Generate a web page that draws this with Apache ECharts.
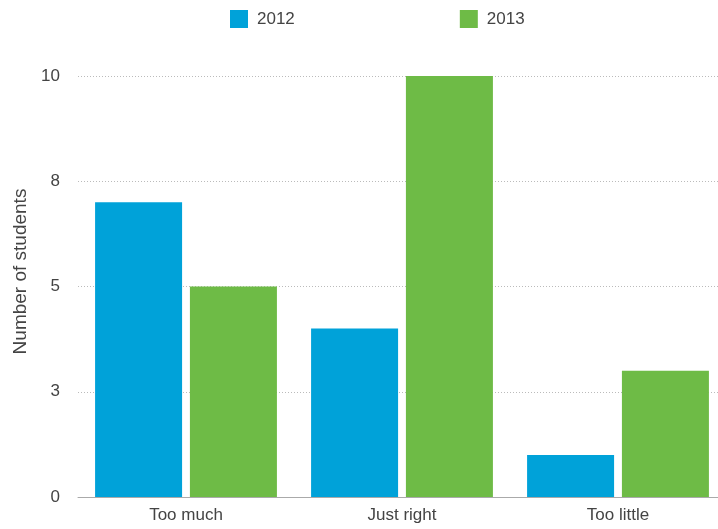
<!DOCTYPE html>
<html>
<head>
<meta charset="utf-8">
<script src="https://cdn.jsdelivr.net/npm/echarts@6/dist/echarts.min.js"></script>
<style>
html,body{margin:0;padding:0;background:#fff;overflow:hidden;}
/* plot runs a few px past the right edge, like the original */
#main{width:726px;height:529px;}
</style>
</head>
<body>
<div id="main"></div>
<script>
var categories = ['Too much', 'Just right', 'Too little'];
var data2012 = [7, 4, 1];
var data2013 = [5, 10, 3];

var myChart = echarts.init(document.getElementById('main'));
var font = 'Liberation Sans, Arial, sans-serif';
var option = {
    animation: false,
    color: ['#00a2d9', '#6ebb46'],
    textStyle: {fontFamily: font},
    legend: {
        left: 230,
        top: 10,
        padding: 0,
        itemWidth: 18,
        itemHeight: 18,
        itemGap: 165,
        icon: 'rect',
        textStyle: {fontSize: 17, color: '#444', fontFamily: font, padding: [0, 0, 0, 4]},
        data: ['2012', '2013']
    },
    grid: {
        left: 78,
        top: 76,
        right: 0,
        bottom: 32
    },
    xAxis: {
        type: 'category',
        data: categories,
        axisTick: {show: false},
        axisLine: {lineStyle: {color: '#aaa', width: 1}},
        axisLabel: {fontSize: 17, color: '#444', margin: 10}
    },
    yAxis: {
        type: 'value',
        min: 0,
        max: 10,
        interval: 2.5,
        name: 'Number of students',
        nameLocation: 'middle',
        nameGap: 47,
        nameTextStyle: {fontSize: 19, color: '#444', padding: [0, 0, 0, 30]},
        axisLine: {show: false},
        axisTick: {show: false},
        axisLabel: {
            fontSize: 17, color: '#444', margin: 18,
            formatter: function (v) { return Math.round(v); }
        },
        splitLine: {lineStyle: {type: [1, 2], color: '#bbb'}}
    },
    series: [
        {name: '2012', type: 'bar', barWidth: 87, barGap: '9%', data: data2012},
        {name: '2013', type: 'bar', barWidth: 87, data: data2013}
    ]
};
myChart.setOption(option);
</script>
</body>
</html>
